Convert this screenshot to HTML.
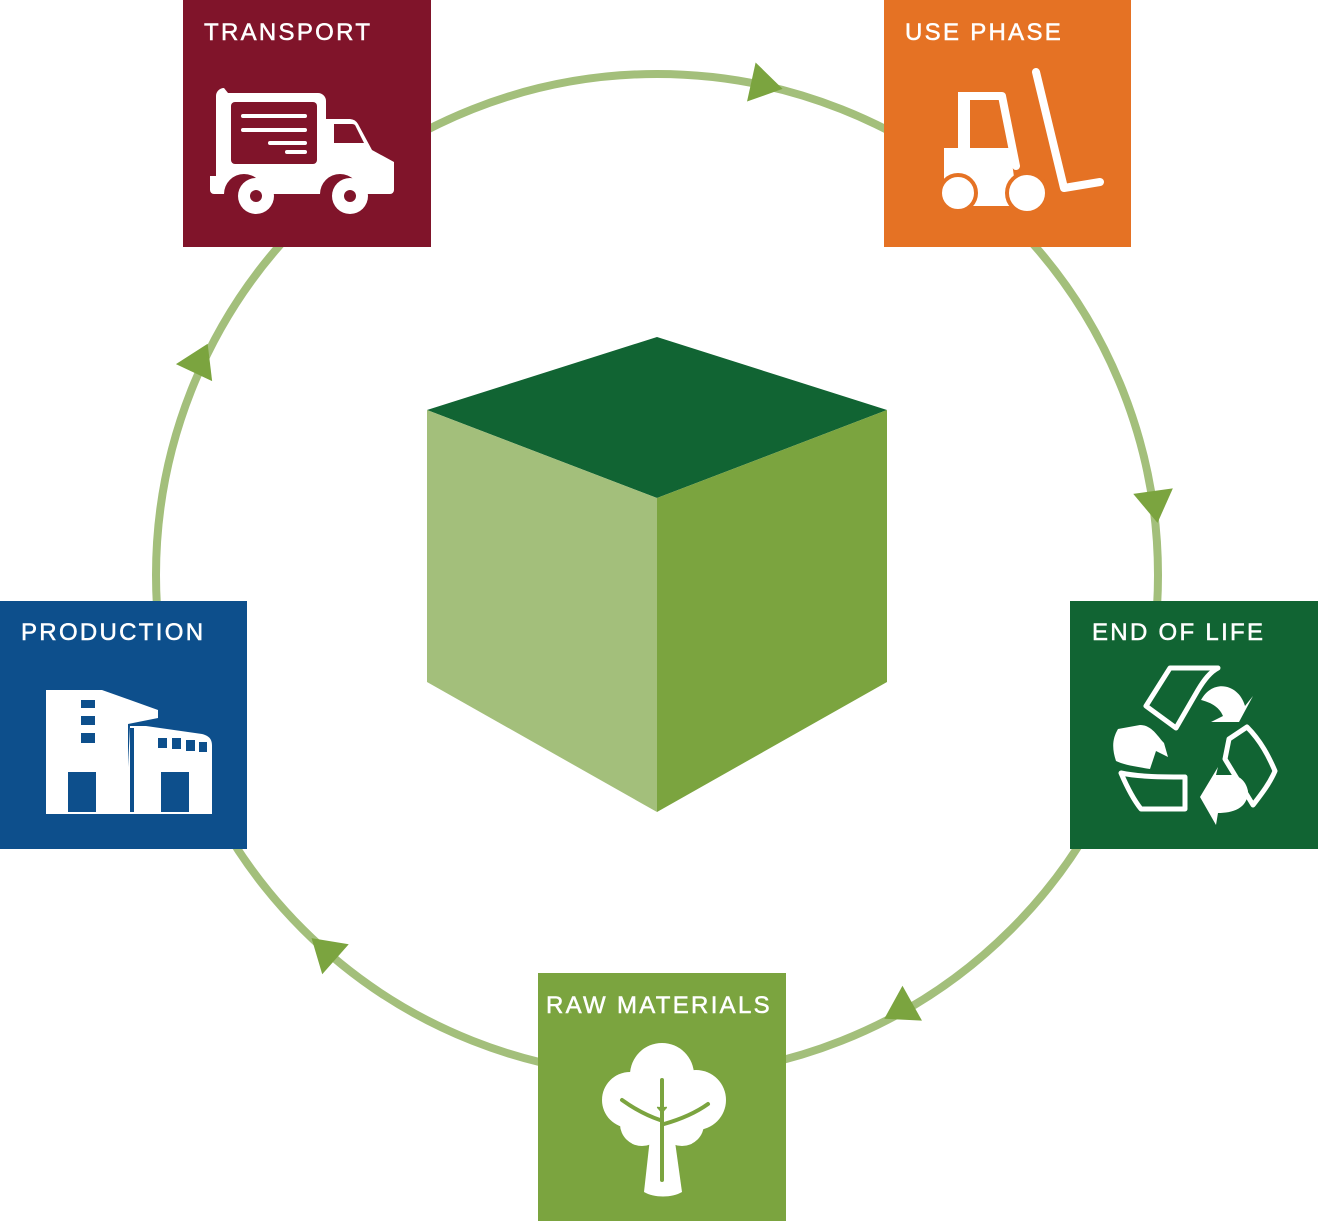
<!DOCTYPE html>
<html><head><meta charset="utf-8"><style>
html,body{margin:0;padding:0;background:#fff;width:1318px;height:1222px;overflow:hidden}
svg text{font-family:"Liberation Sans",sans-serif;font-size:24px;fill:#fff;letter-spacing:2.3px;stroke:#fff;stroke-width:0.5px}
</style></head><body>
<svg width="1318" height="1222" viewBox="0 0 1318 1222" xmlns="http://www.w3.org/2000/svg">
<circle cx="657" cy="575" r="501" fill="none" stroke="#a3bf7b" stroke-width="8"/>
<g fill="#7ba43f">
<polygon points="18,0 -14,-20 -14,20" transform="translate(765,85) rotate(12.4)"/>
<polygon points="18,0 -14,-20 -14,20" transform="translate(1155,505) rotate(82)"/>
<polygon points="18,0 -14,-20 -14,20" transform="translate(900,1010) rotate(150.8)"/>
<polygon points="18,0 -14,-20 -14,20" transform="translate(325,950) rotate(221.5)"/>
<polygon points="18,0 -14,-20 -14,20" transform="translate(200,360) rotate(295.2)"/>
</g>
<polygon points="657,337 887,410 657,498 427,410" fill="#116433"/>
<polygon points="427,410 657,498 657,812 427,682" fill="#a3bf7b"/>
<polygon points="657,498 887,410 887,682 657,812" fill="#7ba43f"/>

<rect x="183" y="0" width="248" height="247" fill="#80142a"/>
<text x="204" y="40">TRANSPORT</text>
<g fill="#fff">
<path d="M228,93 h90 a8,8 0 0 1 8,8 v18 h24 a10,10 0 0 1 8,5 l14,26 l22,12 v28 a4,4 0 0 1 -4,4 h-30 a20,20 0 0 0 -40,0 h-56 a20,20 0 0 0 -40,0 h-10 a4,4 0 0 1 -4,-4 v-14 h6 v-80 a8,8 0 0 1 8,-8 z"/>
</g>
<rect x="231" y="102" width="86" height="62" rx="4" fill="#80142a"/>
<path d="M334,124 h18 a4,4 0 0 1 4,3 l8,16 h-30 z" fill="#80142a"/>
<g stroke="#fff" stroke-width="4" stroke-linecap="round"><line x1="243" y1="116" x2="305" y2="116"/><line x1="243" y1="130" x2="305" y2="130"/><line x1="270" y1="143" x2="305" y2="143"/><line x1="287" y1="152" x2="305" y2="152"/></g>
<circle cx="256" cy="196" r="18" fill="#fff"/><circle cx="256" cy="196" r="6" fill="#80142a"/>
<circle cx="350" cy="196" r="18" fill="#fff"/><circle cx="350" cy="196" r="6" fill="#80142a"/>

<rect x="884" y="0" width="247" height="247" fill="#e57224"/>
<text x="905" y="40">USE PHASE</text>
<g fill="none" stroke="#fff" stroke-width="8" stroke-linecap="round" stroke-linejoin="round">
<path d="M1036,72 L1064,188 L1100,182"/>
<path d="M962,96 h40 l14,70"/>
</g>
<g fill="#fff">
<rect x="958" y="92" width="12" height="58"/>
<path d="M944,148 h66 l8,58 h-74 z"/>
</g>
<circle cx="958" cy="193" r="18" fill="#fff" stroke="#e57224" stroke-width="4"/>
<circle cx="1027" cy="193" r="20" fill="#fff" stroke="#e57224" stroke-width="4"/>

<rect x="1070" y="601" width="248" height="248" fill="#116433"/>
<text x="1092" y="640">END OF LIFE</text>
<g fill="none" stroke="#fff" stroke-width="5" stroke-linejoin="round">
<path d="M1170,668 h48 c-8,4 -14,12 -20,22 l-22,38 l-30,-22 z"/>
<path d="M1229,739 l18,-12 c14,14 22,30 28,44 c-6,14 -16,26 -22,34 l-28,-46 z"/>
<path d="M1121,773 c20,4 40,4 64,4 v32 h-44 c-8,-10 -14,-22 -20,-36 z"/>
</g>
<g fill="#fff">
<path d="M1201,700 c12,-22 38,-16 44,6 l8,-10 l-14,26 l-28,0 l12,-6 c-4,-10 -14,-14 -22,-16 z"/>
<path d="M1118,729 l22,-4 c12,0 18,12 24,18 l4,14 l-12,-6 l-6,18 c-12,-2 -26,-4 -34,-8 c-4,-12 -4,-22 2,-32 z"/>
<path d="M1218,767 l-18,30 l16,28 l2,-12 c14,0 30,-4 30,-22 c-2,-10 -8,-14 -14,-16 h-18 z"/>
</g>

<rect x="538" y="973" width="248" height="248" fill="#7ba43f"/>
<text x="546" y="1013">RAW MATERIALS</text>
<g fill="#fff">
<circle cx="662" cy="1075" r="32"/><circle cx="630" cy="1100" r="28"/><circle cx="696" cy="1100" r="30"/>
<circle cx="642" cy="1124" r="22"/><circle cx="682" cy="1124" r="22"/>
<path d="M652,1120 h20 l10,72 c-10,6 -28,6 -38,0 z"/>
</g>
<g stroke="#7ba43f" stroke-width="4" fill="none" stroke-linecap="round">
<path d="M662,1080 v100"/><path d="M622,1100 c14,10 26,16 38,20"/><path d="M708,1104 c-14,10 -30,16 -44,20"/>
</g>

<rect x="0" y="601" width="247" height="248" fill="#0d4f8c"/>
<text x="21" y="640">PRODUCTION</text>
<g fill="#fff">
<path d="M46,690 h56 l56,20 v8 l-30,6 v84 l-82,0 z"/>
<path d="M130,726 h16 l56,8 c8,2 10,6 10,12 v62 h-86 z"/>
<path d="M46,806 h166 v8 h-166 z"/>
</g>
<g fill="#0d4f8c">
<rect x="81" y="700" width="14" height="8"/><rect x="81" y="716" width="14" height="9"/><rect x="81" y="733" width="14" height="10"/>
<rect x="68" y="772" width="28" height="40"/><rect x="161" y="772" width="28" height="40"/>
<rect x="158" y="738" width="9" height="10"/><rect x="172" y="738" width="9" height="11"/><rect x="186" y="740" width="9" height="11"/><rect x="199" y="742" width="8" height="10"/>
<rect x="130" y="728" width="4" height="84"/>
</g>
</svg>
</body></html>
